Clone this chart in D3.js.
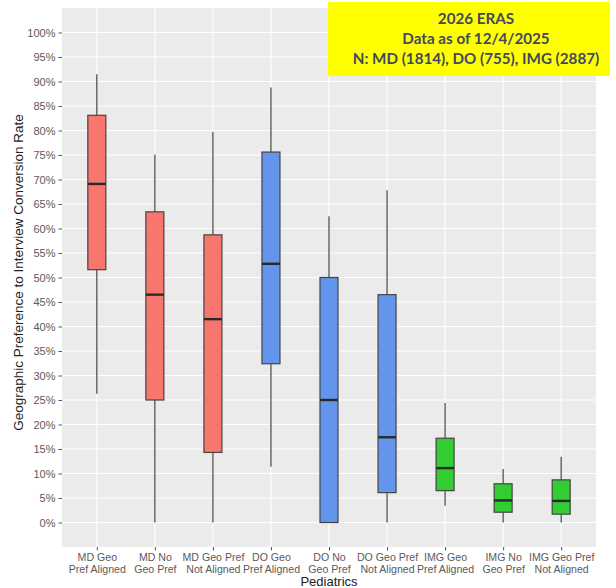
<!DOCTYPE html>
<html>
<head>
<meta charset="utf-8">
<script src="https://cdn.jsdelivr.net/npm/d3@7"></script>
<style>
  html, body { margin: 0; padding: 0; background: #ffffff; }
  svg { display: block; }
</style>
</head>
<body>
<div id="chart"></div>
<script>
// ---- data ----
const categories = [
  "MD Geo\nPref Aligned", "MD No\nGeo Pref", "MD Geo Pref\nNot Aligned",
  "DO Geo\nPref Aligned", "DO No\nGeo Pref", "DO Geo Pref\nNot Aligned",
  "IMG Geo\nPref Aligned", "IMG No\nGeo Pref", "IMG Geo Pref\nNot Aligned"
];
const groups      = ["MD", "MD", "MD", "DO", "DO", "DO", "IMG", "IMG", "IMG"];
const whiskerLow  = [0.263, 0.000, 0.000, 0.114, 0.000, 0.000, 0.034, 0.000, 0.000];
const q1Values    = [0.516, 0.250, 0.143, 0.324, 0.000, 0.061, 0.065, 0.021, 0.017];
const medians     = [0.691, 0.465, 0.415, 0.528, 0.250, 0.174, 0.111, 0.045, 0.044];
const q3Values    = [0.831, 0.634, 0.587, 0.756, 0.500, 0.465, 0.172, 0.079, 0.087];
const whiskerHigh = [0.915, 0.751, 0.797, 0.888, 0.625, 0.678, 0.244, 0.109, 0.134];
const yTicks = d3.range(0, 21).map(i => i * 0.05);
const groupColors = { MD: "#F8766D", DO: "#6495ED", IMG: "#32CD32" };
const titleLines = ["2026 ERAS", "Data as of 12/4/2025", "N: MD (1814), DO (755), IMG (2887)"];
const xTitle = "Pediatrics";
const yTitle = "Geographic Preference to Interview Conversion Rate";

const data = categories.map((c, i) => ({
  cat: c, group: groups[i], lo: whiskerLow[i], q1: q1Values[i],
  med: medians[i], q3: q3Values[i], hi: whiskerHigh[i]
}));

// ---- layout ----
const W = 616, H = 588;
const panel = { left: 62, right: 596, top: 8, bottom: 547 };
const sansFont = "'Liberation Sans', Arial, sans-serif";

const svg = d3.select("#chart").append("svg")
  .attr("width", W).attr("height", H);

const x = d3.scalePoint().domain(categories)
  .range([panel.left, panel.right]).padding(0.6);
const y = d3.scaleLinear().domain([-0.05, 1.05])
  .range([panel.bottom, panel.top]);

// panel background
svg.append("rect")
  .attr("x", panel.left).attr("y", panel.top)
  .attr("width", panel.right - panel.left)
  .attr("height", panel.bottom - panel.top)
  .attr("fill", "#EBEBEB");

// grid lines
svg.append("g").selectAll("line").data(yTicks).join("line")
  .attr("x1", panel.left).attr("x2", panel.right)
  .attr("y1", d => y(d)).attr("y2", d => y(d))
  .attr("stroke", "#ffffff").attr("stroke-width", 1.1);
svg.append("g").selectAll("line").data(categories).join("line")
  .attr("x1", d => x(d)).attr("x2", d => x(d))
  .attr("y1", panel.top).attr("y2", panel.bottom)
  .attr("stroke", "#ffffff").attr("stroke-width", 1.1);

// axes
const yAxis = d3.axisLeft(y).tickValues(yTicks)
  .tickFormat(d => Math.round(d * 100) + "%").tickSize(3.5).tickPadding(3);
const gy = svg.append("g").attr("transform", `translate(${panel.left},0)`).call(yAxis);
gy.select(".domain").remove();
gy.selectAll(".tick line").attr("stroke", "#555");
gy.selectAll(".tick text").attr("fill", "#5a5a5a")
  .style("font-family", sansFont).style("font-size", "11px");

const xAxis = d3.axisBottom(x).tickSize(3.5).tickFormat("");
const gx = svg.append("g").attr("transform", `translate(0,${panel.bottom})`).call(xAxis);
gx.select(".domain").remove();
gx.selectAll(".tick line").attr("stroke", "#555");
gx.selectAll(".tick").each(function(d) {
  const lines = d.split("\n");
  const t = d3.select(this).append("text")
    .attr("fill", "#5a5a5a").attr("text-anchor", "middle")
    .style("font-family", sansFont).style("font-size", "10.6px");
  lines.forEach((ln, i) => {
    t.append("tspan").attr("x", 0).attr("y", 14 + i * 12).text(ln);
  });
});

// boxes
const bw = x.step() * 0.31;
const boxes = svg.append("g").selectAll("g").data(data).join("g");
boxes.append("line")
  .attr("x1", d => x(d.cat)).attr("x2", d => x(d.cat))
  .attr("y1", d => y(d.hi)).attr("y2", d => y(d.q3))
  .attr("stroke", "#444").attr("stroke-width", 1.2);
boxes.append("line")
  .attr("x1", d => x(d.cat)).attr("x2", d => x(d.cat))
  .attr("y1", d => y(d.q1)).attr("y2", d => y(d.lo))
  .attr("stroke", "#444").attr("stroke-width", 1.2);
boxes.append("rect")
  .attr("x", d => x(d.cat) - bw / 2).attr("width", bw)
  .attr("y", d => y(d.q3)).attr("height", d => y(d.q1) - y(d.q3))
  .attr("fill", d => groupColors[d.group])
  .attr("stroke", "#444").attr("stroke-width", 1.2);
boxes.append("line")
  .attr("x1", d => x(d.cat) - bw / 2).attr("x2", d => x(d.cat) + bw / 2)
  .attr("y1", d => y(d.med)).attr("y2", d => y(d.med))
  .attr("stroke", "#2a2a2a").attr("stroke-width", 2.4);

// axis titles
svg.append("text")
  .attr("x", (panel.left + panel.right) / 2).attr("y", 586)
  .attr("text-anchor", "middle").attr("fill", "#222")
  .style("font-family", sansFont).style("font-size", "13px")
  .text(xTitle);
svg.append("text")
  .attr("transform", `translate(23,${(panel.top + panel.bottom) / 2 - 5}) rotate(-90)`)
  .attr("text-anchor", "middle").attr("fill", "#222")
  .style("font-family", sansFont).style("font-size", "13.5px")
  .text(yTitle);

// yellow annotation box
svg.append("rect")
  .attr("x", 328).attr("y", 2).attr("width", 282).attr("height", 74)
  .attr("fill", "#FFFF00");
const tt = svg.append("text").attr("text-anchor", "middle").attr("fill", "#404A5E")
  .style("font-family", "Lato, 'Open Sans', sans-serif").style("font-weight", "700")
  .style("font-size", "15.2px");
titleLines.forEach((ln, i) => {
  tt.append("tspan").attr("x", 476).attr("y", 24 + i * 20).text(ln);
});
</script>
</body>
</html>
